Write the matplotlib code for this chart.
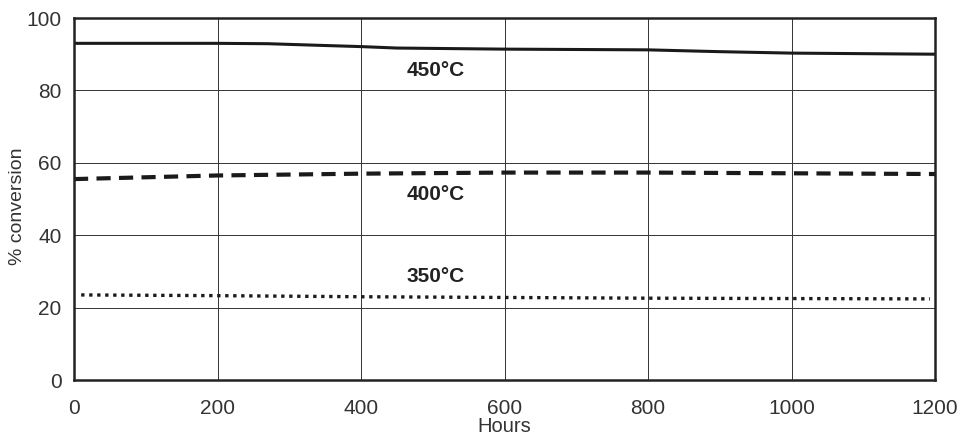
import matplotlib
matplotlib.use("Agg")
import matplotlib.pyplot as plt

plt.rcParams['font.family'] = ['Liberation Sans', 'DejaVu Sans']

hours_450 = [0, 100, 200, 270, 350, 400, 450, 600, 800, 900, 1000, 1200]
conv_450 = [93.0, 93.0, 93.0, 92.9, 92.4, 92.1, 91.7, 91.4, 91.2, 90.7, 90.3, 90.0]

hours_400 = [0, 200, 400, 600, 800, 1000, 1200]
conv_400 = [55.5, 56.5, 57.0, 57.3, 57.3, 57.1, 56.9]

hours_350 = [10, 200, 400, 600, 800, 1000, 1193]
conv_350 = [23.5, 23.3, 23.0, 22.8, 22.6, 22.5, 22.4]

labels = ["450°C", "400°C", "350°C"]
label_x = [504, 504, 504]
label_y = [85.6, 51.2, 28.5]

xticks = [0, 200, 400, 600, 800, 1000, 1200]
yticks = [0, 20, 40, 60, 80, 100]

W, H = 965, 438
fig = plt.figure(figsize=(W/100, H/100), dpi=100)
L, R, T, B = 74, 935, 18, 380
ax = fig.add_axes([L/W, 1 - B/H, (R-L)/W, (B-T)/H])

ax.plot(hours_450, conv_450, color='#1a1a1a', lw=2.2, solid_capstyle='butt')
ax.plot(hours_400, conv_400, color='#1a1a1a', lw=3.0, dashes=(3.4, 2.0), dash_capstyle='butt')
ax.plot(hours_350, conv_350, color='#1a1a1a', lw=2.4, dashes=(1.0, 1.4), dash_capstyle='butt')

for t, x, y in zip(labels, label_x, label_y):
    ax.text(x, y, t, ha='center', va='center', fontsize=15, fontweight='bold', color='#222222')

ax.set_xlim(0, 1200)
ax.set_ylim(0, 100)
ax.set_xticks(xticks)
ax.set_yticks(yticks)
ax.grid(True, color='#333333', lw=0.7)
ax.set_axisbelow(True)
ax.tick_params(length=0, labelsize=15, colors='#333333')
ax.tick_params(axis='x', pad=14)
ax.tick_params(axis='y', pad=9)
for s in ax.spines.values():
    s.set_linewidth(1.8)
    s.set_color('#222222')

ax.set_xlabel("Hours", fontsize=14.5, color='#333333')
ax.xaxis.label.set_va('center')
ax.xaxis.set_label_coords(0.5, (B - 427) / (B - T))

ax.set_ylabel("% conversion", fontsize=14, color='#333333')
ax.yaxis.label.set_va('center')
ax.yaxis.set_label_coords((18 - L) / (R - L), (B - 206) / (B - T))

fig.savefig("out.png", dpi=100)
